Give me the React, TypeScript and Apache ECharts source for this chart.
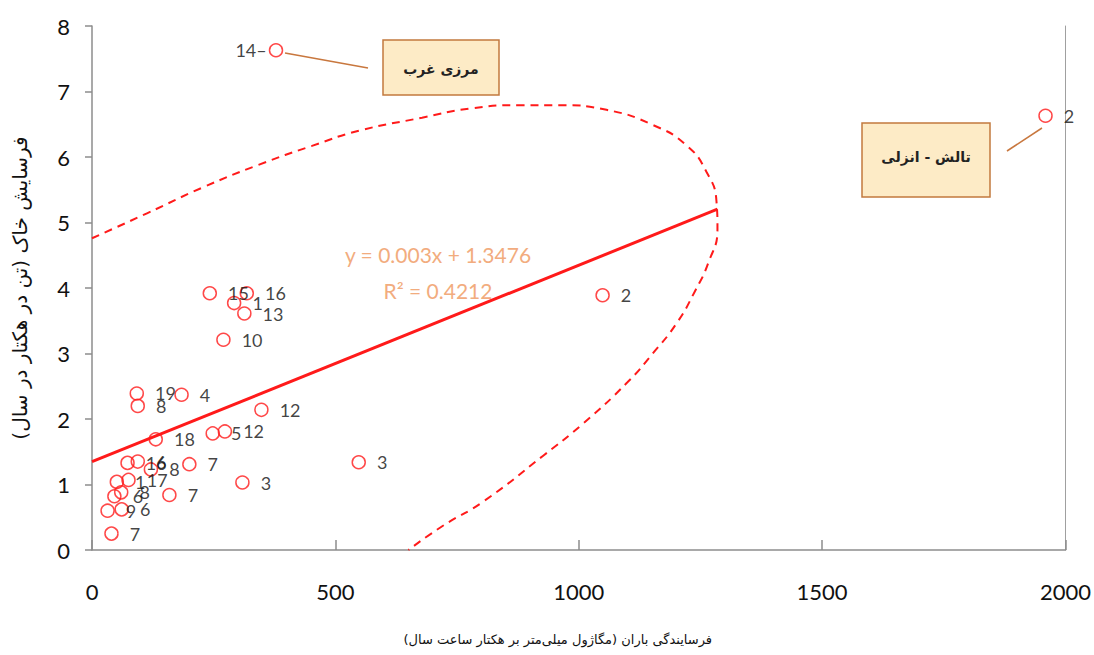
import React, { useEffect, useRef } from "react";
import * as echarts from "echarts";

// Scatter points: rainfall erosivity (x) vs soil erosion (y), with station labels
const pointX = [242, 318, 292, 313, 270, 1049, 548, 378, 1959, 92, 94, 184, 348, 248, 273, 131, 73, 94, 121, 200, 51, 75, 46, 60, 32, 61, 40, 159, 309];
const pointY = [3.92, 3.92, 3.77, 3.61, 3.21, 3.89, 1.34, 7.63, 6.63, 2.39, 2.2, 2.37, 2.14, 1.78, 1.81, 1.69, 1.33, 1.35, 1.23, 1.31, 1.04, 1.07, 0.82, 0.88, 0.6, 0.62, 0.25, 0.84, 1.03];
const pointLabels = ["15", "16", "1", "13", "10", "2", "3", "14", "2", "19", "8", "4", "12", "5", "12", "18", "16", "6", "8", "7", "1", "17", "6", "8", "9", "6", "7", "7", "3"];

// Linear trend line y = 0.003x + 1.3476 (end points)
const trendX = [0, 1285];
const trendY = [1.3476, 5.2026];

// Dashed confidence envelope
const envX = [0, 113, 226, 342, 452, 548, 678, 776, 879, 961, 1057, 1152, 1221, 1262, 1283, 1285, 1266, 1238, 1201, 1152, 1100, 1009, 927, 804, 721, 650];
const envY = [4.76, 5.14, 5.53, 5.88, 6.17, 6.4, 6.6, 6.74, 6.79, 6.79, 6.72, 6.49, 6.18, 5.78, 5.32, 4.9, 4.38, 3.94, 3.46, 3.0, 2.56, 1.93, 1.44, 0.74, 0.37, 0];

const xTicks = { min: 0, max: 2000, interval: 500 };
const yTicks = { min: 0, max: 8, interval: 1 };

const xName = "فرسایندگی باران (مگاژول میلی‌متر بر هکتار ساعت سال)";
const yName = "فرسایش خاک (تن در هکتار در سال)";
const box1Text = "مرزی غرب";
const box2Text = "تالش - انزلی";
const eqText = "y = 0.003x + 1.3476";
const r2Text = "R² = 0.4212";

export default function App() {
  const ref = useRef<HTMLDivElement>(null);
  useEffect(() => {
    if (!ref.current) return;
    const chart = echarts.init(ref.current, undefined, { renderer: "svg" });
    const red = "#FF1A1A";
    const axisColor = "#8C8C8C";
    const boxFill = "#FDEBC6";
    const boxStroke = "#C27A3E";
    const leader = "#C8773E";

    const scatterData = pointX.map((x, i) => {
      const item: any = { value: [x, pointY[i]] };
      if (pointLabels[i] === "14") {
        item.label = { position: "left", distance: 2, formatter: "14–" };
      }
      return item;
    });

    chart.setOption({
      animation: false,
      backgroundColor: "#ffffff",
      grid: { left: 92, right: 28, top: 26, bottom: 105 },
      xAxis: {
        type: "value",
        min: xTicks.min,
        max: xTicks.max,
        interval: xTicks.interval,
        splitLine: { show: false },
        axisLine: { show: true, lineStyle: { color: axisColor, width: 1.5 } },
        axisTick: { show: true, inside: true, length: 10, lineStyle: { color: axisColor, width: 1.5 } },
        axisLabel: { fontSize: 22, color: "#111", fontFamily: "Lato", margin: 30, formatter: (v: number) => String(v) },
        name: xName,
        nameLocation: "middle",
        nameGap: 83,
        nameTextStyle: { fontSize: 13, color: "#111", fontFamily: "DejaVu Sans", padding: [0, 42, 0, 0] },
      },
      yAxis: [
        {
          type: "value",
          min: yTicks.min,
          max: yTicks.max,
          interval: yTicks.interval,
          splitLine: { show: false },
          axisLine: { show: true, lineStyle: { color: axisColor, width: 1.5 } },
          axisTick: { show: true, inside: false, length: 7, lineStyle: { color: axisColor, width: 1.5 } },
          axisLabel: { fontSize: 22, color: "#111", fontFamily: "Lato", margin: 22 },
          name: yName,
          nameLocation: "middle",
          nameGap: 62,
          nameRotate: 90,
          nameTextStyle: { fontSize: 20, color: "#111", fontFamily: "DejaVu Sans" },
        },
        {
          type: "value",
          position: "right",
          min: yTicks.min,
          max: yTicks.max,
          interval: yTicks.interval,
          splitLine: { show: false },
          axisLine: { show: true, lineStyle: { color: "#A0A0A0", width: 1 } },
          axisTick: { show: false },
          axisLabel: { show: false },
        },
      ],
      series: [
        {
          type: "line",
          data: envX.map((x, i) => [x, envY[i]]),
          smooth: 0.5,
          showSymbol: false,
          symbol: "none",
          lineStyle: { color: red, width: 2, type: [8, 6] },
          z: 2,
        },
        {
          type: "line",
          data: trendX.map((x, i) => [x, trendY[i]]),
          showSymbol: false,
          symbol: "none",
          lineStyle: { color: red, width: 3 },
          z: 3,
        },
        {
          type: "scatter",
          data: scatterData,
          symbol: "circle",
          symbolSize: 13,
          itemStyle: { color: "rgba(255,255,255,0)", borderColor: red, borderWidth: 1.5 },
          label: {
            show: true,
            position: "right",
            distance: 11,
            color: "#111",
            fontSize: 18,
            fontFamily: "Lato",
            formatter: (p: any) => pointLabels[p.dataIndex],
          },
          z: 4,
        },
      ],
      graphic: [
        // leader lines
        { type: "line", shape: { x1: 285, y1: 53, x2: 368, y2: 68 }, style: { stroke: leader, lineWidth: 1.5 }, z: 10 },
        { type: "line", shape: { x1: 1007, y1: 151, x2: 1042, y2: 128 }, style: { stroke: leader, lineWidth: 1.5 }, z: 10 },
        // box 1
        { type: "rect", shape: { x: 383, y: 40, width: 116, height: 55 }, style: { fill: boxFill, stroke: boxStroke, lineWidth: 1.5 }, z: 10 },
        {
          type: "text", x: 441, y: 69, z: 11,
          style: { text: box1Text, fill: "#222", font: "bold 14px 'DejaVu Sans'", align: "center", verticalAlign: "middle" },
        },
        // box 2
        { type: "rect", shape: { x: 862, y: 123, width: 128, height: 74 }, style: { fill: boxFill, stroke: boxStroke, lineWidth: 1.5 }, z: 10 },
        {
          type: "text", x: 926, y: 157, z: 11,
          style: { text: box2Text, fill: "#222", font: "bold 14px 'DejaVu Sans'", align: "center", verticalAlign: "middle" },
        },
        // equation
        {
          type: "text", x: 438, y: 254, z: 11,
          style: { text: eqText, fill: "#F2AC7E", font: "21px Lato", align: "center", verticalAlign: "middle" },
        },
        {
          type: "text", x: 438, y: 290, z: 11,
          style: { text: r2Text, fill: "#F2AC7E", font: "21px Lato", align: "center", verticalAlign: "middle" },
        },
      ],
    });
    return () => chart.dispose();
  }, []);
  return <div ref={ref} style={{ position: "absolute", left: 0, top: 0, width: 1094, height: 655 }} />;
}
